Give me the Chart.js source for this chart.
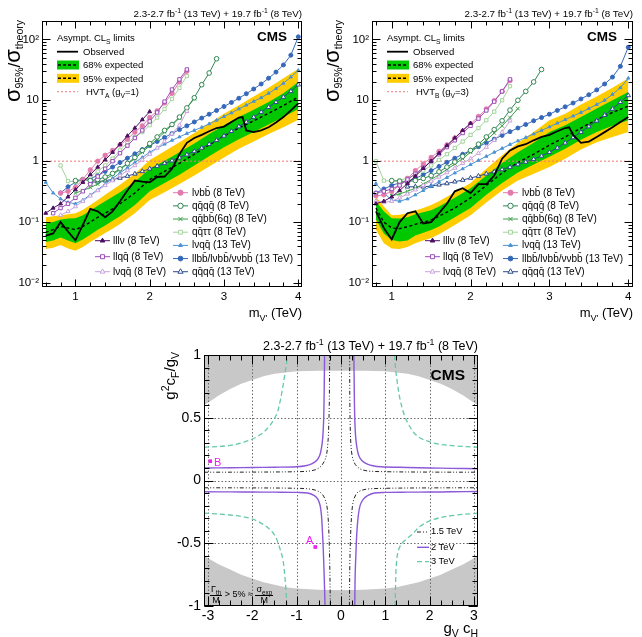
<!DOCTYPE html>
<html><head><meta charset="utf-8"><title>CMS HVT limits</title>
<script src="https://cdn.jsdelivr.net/npm/chart.js@4.4.1/dist/chart.umd.min.js"></script>
<style>
html,body{margin:0;padding:0;background:#fff;}
#wrap{position:relative;width:642px;height:637px;overflow:hidden;font-family:"Liberation Sans",Arial,Helvetica,sans-serif;color:#000;}
.pane{position:absolute;}
.pane canvas{display:block;}
.t{position:absolute;white-space:nowrap;line-height:1;}
.t sub,.t sup,.rot sub,.rot sup{font-size:70%;line-height:0;}
.rot{position:absolute;white-space:nowrap;transform-origin:0 0;transform:rotate(-90deg);text-align:right;}
.frac{display:inline-flex;flex-direction:column;align-items:center;vertical-align:middle;}
.frac .num{border-bottom:0.8px solid #000;padding:0 1px 1px 1px;}
</style></head>
<body><div id="wrap">
<div class="pane" style="left:0;top:0"><canvas id="cA" width="320" height="310"></canvas></div>
<div class="pane" style="left:320px;top:0"><canvas id="cB" width="322" height="310"></canvas></div>
<div class="pane" style="left:150px;top:330px"><canvas id="cC" width="340" height="307"></canvas></div>
</div>
<script>
// ---------------- mass grids (TeV) ----------------
const m06_20=[0.6,0.7,0.8,0.9,1.0,1.1,1.2,1.3,1.4,1.5,1.6,1.7,1.8,1.9,2.0];
const m07_25=[0.7,0.8,0.9,1.0,1.1,1.2,1.3,1.4,1.5,1.6,1.7,1.8,1.9,2.0,2.1,2.2,2.3,2.4,2.5];
const m08_20=[0.8,0.9,1.0,1.1,1.2,1.3,1.4,1.5,1.6,1.7,1.8,1.9,2.0];
const m08_25=[0.8,0.9,1.0,1.1,1.2,1.3,1.4,1.5,1.6,1.7,1.8,1.9,2.0,2.1,2.2,2.3,2.4,2.5];
const m10_26=[1.0,1.1,1.2,1.3,1.4,1.5,1.6,1.7,1.8,1.9,2.0,2.1,2.2,2.3,2.4,2.5,2.6];
const m10_29=[1.0,1.1,1.2,1.3,1.4,1.5,1.6,1.7,1.8,1.9,2.0,2.1,2.2,2.3,2.4,2.5,2.6,2.7,2.8,2.9];
const m06_40=[0.6,0.7,0.8,0.9,1.0,1.1,1.2,1.3,1.4,1.5,1.6,1.7,1.8,1.9,2.0,2.1,2.2,2.3,2.4,2.5,2.6,2.7,2.8,2.9,3.0,3.1,3.2,3.3,3.4,3.5,3.6,3.7,3.8,3.9,4.0];
const m08_40=[0.8,0.9,1.0,1.1,1.2,1.3,1.4,1.5,1.6,1.7,1.8,1.9,2.0,2.1,2.2,2.3,2.4,2.5,2.6,2.7,2.8,2.9,3.0,3.1,3.2,3.3,3.4,3.5,3.6,3.7,3.8,3.9,4.0];
const m12_40=[1.2,1.3,1.4,1.5,1.6,1.7,1.8,1.9,2.0,2.1,2.2,2.3,2.4,2.5,2.6,2.7,2.8,2.9,3.0,3.1,3.2,3.3,3.4,3.5,3.6,3.7,3.8,3.9,4.0];

// ---------------- HVT model A (gV=1) ----------------
const mBandA=[0.6,0.7,0.8,0.9,1.0,1.1,1.2,1.3,1.4,1.5,1.6,1.8,2.0,2.2,2.4,2.6,2.8,3.0,3.2,3.4,3.6,3.8,4.0];
const expA  =[0.068,0.075,0.085,0.08,0.075,0.085,0.1,0.12,0.14,0.165,0.2,0.3,0.5,0.68,0.92,1.3,1.85,2.6,3.5,4.6,6.1,8.2,11.3];
const g68upA=[0.095,0.1,0.11,0.115,0.116,0.13,0.155,0.185,0.22,0.26,0.31,0.46,0.75,1.02,1.4,1.95,2.8,3.9,5.3,7.0,9.4,13,20];
const g68dnA=[0.047,0.05,0.056,0.05,0.045,0.052,0.062,0.075,0.088,0.105,0.125,0.19,0.32,0.44,0.6,0.85,1.2,1.7,2.3,3.0,4.0,5.3,7.2];
const y95upA=[0.12,0.125,0.13,0.135,0.14,0.16,0.19,0.23,0.28,0.34,0.41,0.62,1.05,1.45,2.05,2.9,4.2,6.0,8.3,11.5,16,23,33];
const y95dnA=[0.036,0.038,0.042,0.037,0.034,0.039,0.047,0.056,0.066,0.078,0.093,0.14,0.23,0.31,0.42,0.58,0.82,1.15,1.6,2.1,2.8,3.6,4.8];
const mObsA=[0.6,0.7,0.8,0.9,1.0,1.1,1.2,1.3,1.4,1.5,1.6,1.7,1.8,1.9,2.0,2.1,2.2,2.3,2.4,2.5,2.6,2.7,2.8,2.9,3.0,3.1,3.2,3.25,3.3,3.4,3.5,3.6,3.7,3.8,3.9,4.0];
const obsA =[0.06,0.065,0.1,0.07,0.05,0.09,0.165,0.15,0.12,0.15,0.22,0.33,0.48,0.46,0.45,0.55,0.56,0.75,1.3,2.0,2.4,2.7,3.1,3.5,3.7,4.4,5.2,5.3,3.2,3.0,3.2,3.6,4.3,5.3,6.8,8.9];
const hvtMA=[0.55,4.05], hvtA=[1,1];
const lllv8A =[0.14,0.17,0.2,0.26,0.34,0.45,0.6,0.8,1.05,1.4,1.9,2.6,3.5,4.8,6.5];
const llqq8A =[0.14,0.17,0.2,0.25,0.32,0.42,0.56,0.75,1.0,1.35,1.8,2.4,3.2,4.5,6.3,9.5,15,22,32];
const lvqq8A =[0.13,0.15,0.18,0.22,0.27,0.33,0.4,0.48,0.58,0.7,0.85,1.05,1.3,1.65,2.1,2.8,3.9,6.6];
const lvbb8A =[0.3,0.32,0.37,0.5,0.72,1.0,1.25,1.5,1.85,2.3,3.0,3.8,5.2,6.7,9.0,13,20,30];
const qqqq8A =[0.48,0.5,0.48,0.5,0.55,0.63,0.75,0.92,1.15,1.5,1.95,2.5,3.2,4.0,5.3,7.5,11,18,28,48];
const qqbb8A =[0.3,0.33,0.37,0.42,0.5,0.6,0.73,0.9,1.1,1.4,1.8,2.3,3.0,3.9,5.1,7.5,10.6];
const qqtt8A =[0.85,0.47,0.46,0.5,0.56,0.68,0.85,1.1,1.5,2.0,2.5,3.0,3.9,5.2,7.2,10.5,16,25];
const lvqq13A=[0.45,0.3,0.24,0.21,0.2,0.23,0.28,0.34,0.42,0.52,0.64,0.78,0.95,1.15,1.4,1.65,1.9,2.2,2.5,2.85,3.2,3.6,4.1,4.7,5.4,6.2,7.2,8.3,9.6,11,13,15.5,19,24,31];
const llbb13A=[0.3,0.38,0.45,0.5,0.52,0.58,0.68,0.8,0.95,1.12,1.32,1.55,1.8,2.1,2.45,2.85,3.3,3.8,4.4,5.1,5.9,6.8,7.9,9.2,10.8,12.8,15.3,18.5,23,29,38,55,110];
const qqqq13A=[0.45,0.46,0.48,0.5,0.53,0.57,0.62,0.68,0.75,0.83,0.92,1.02,1.14,1.28,1.45,1.65,1.9,2.2,2.6,3.1,3.7,4.4,5.3,6.4,7.7,9.3,11.3,14,18];

// ---------------- HVT model B (gV=3) ----------------
const mBandB=[0.8,0.9,1.0,1.1,1.2,1.3,1.4,1.5,1.6,1.8,2.0,2.2,2.4,2.6,2.8,3.0,3.2,3.4,3.6,3.8,4.0];
const expB  =[0.17,0.1,0.08,0.078,0.084,0.092,0.1,0.108,0.125,0.17,0.25,0.4,0.64,0.95,1.3,1.83,2.5,3.5,4.8,6.3,8.0];
const g68upB=[0.22,0.15,0.116,0.115,0.12,0.135,0.145,0.157,0.18,0.25,0.36,0.58,0.93,1.4,2.0,3.0,3.9,5.3,7.3,10,13.7];
const g68dnB=[0.11,0.065,0.051,0.048,0.05,0.06,0.067,0.074,0.085,0.12,0.17,0.28,0.44,0.65,0.88,1.18,1.6,2.25,3.0,3.8,4.7];
const y95upB=[0.26,0.18,0.13,0.132,0.14,0.155,0.17,0.19,0.22,0.31,0.44,0.75,1.25,2.0,3.0,4.7,6.0,8.5,11.5,16,23];
const y95dnB=[0.075,0.045,0.037,0.036,0.039,0.045,0.05,0.055,0.063,0.09,0.13,0.21,0.33,0.48,0.62,0.8,1.1,1.55,2.05,2.5,3.0];
const mObsB=[0.8,0.9,1.0,1.1,1.2,1.3,1.4,1.5,1.6,1.7,1.8,1.9,2.0,2.1,2.2,2.3,2.4,2.5,2.6,2.7,2.8,2.9,3.0,3.1,3.2,3.25,3.3,3.4,3.5,3.6,3.7,3.8,3.9,4.0];
const obsB =[0.15,0.08,0.052,0.1,0.14,0.15,0.095,0.1,0.14,0.2,0.32,0.36,0.3,0.42,0.42,0.58,1.1,1.5,1.75,1.9,2.2,2.5,2.7,3.1,3.5,3.6,2.7,2.0,2.1,2.5,3.0,3.6,4.4,5.3];
const hvtMB=[0.75,4.06], hvtB=[1,1];
const lllv8B =[0.2,0.22,0.26,0.33,0.43,0.57,0.76,1.0,1.35,1.8,2.4,3.2,4.2];
const llqq8B =[0.3,0.32,0.35,0.4,0.5,0.62,0.78,1.0,1.3,1.7,2.2,2.9,3.8,5.0,6.8,9.5,14,22];
const lvqq8B =[0.22,0.21,0.22,0.25,0.29,0.34,0.4,0.47,0.55,0.65,0.77,0.92,1.1,1.35,1.7,2.2,3.0,4.6];
const lvbb8B =[0.27,0.28,0.32,0.4,0.52,0.7,0.9,1.15,1.45,1.85,2.4,3.1,4.1,5.4,7.2,9.8,14,21];
const qqqq8B =[0.48,0.47,0.46,0.48,0.52,0.58,0.67,0.8,0.97,1.2,1.5,1.9,2.5,3.3,4.6,6.9,10,14,20,32];
const qqbb8B =[0.27,0.29,0.32,0.36,0.42,0.5,0.6,0.73,0.9,1.1,1.4,1.75,2.2,2.9,3.8,5.2,7.3];
const qqtt8B =[1.0,0.48,0.47,0.48,0.53,0.6,0.7,0.85,1.05,1.3,1.65,2.1,2.7,3.5,4.7,6.5,10,17];
const lvqq13B=[0.43,0.3,0.23,0.22,0.24,0.28,0.33,0.39,0.46,0.54,0.64,0.75,0.88,1.03,1.2,1.4,1.62,1.88,2.15,2.45,2.8,3.2,3.65,4.2,4.8,5.5,6.3,7.3,8.5,10,12.5,16,23];
const llbb13B=[0.3,0.35,0.4,0.44,0.47,0.52,0.6,0.7,0.82,0.96,1.12,1.3,1.5,1.73,2.0,2.3,2.65,3.05,3.5,4.0,4.6,5.2,5.9,6.8,7.8,9.0,10.5,12.3,14.8,18.5,24,36,74];
const qqqq13B=[0.38,0.38,0.38,0.39,0.41,0.43,0.46,0.49,0.53,0.57,0.62,0.67,0.73,0.8,0.88,0.97,1.08,1.22,1.4,1.65,2.0,2.45,3.0,3.7,4.6,5.7,7.2,9.3,12];

// ---------------- coupling plane (gV cH , g^2 cF / gV) ----------------
const grayX  =[-3.09,-3,-2.75,-2.5,-2.25,-2,-1.75,-1.5,-1.25,-1,-0.5,0,0.5,1,1.25,1.5,1.75,2,2.25,2.5,2.75,3,3.09];
const grayTop=[0.6,0.62,0.68,0.73,0.77,0.8,0.83,0.85,0.86,0.87,0.875,0.875,0.875,0.87,0.86,0.85,0.83,0.8,0.77,0.73,0.68,0.62,0.6];
const grayBot=[-0.6,-0.62,-0.67,-0.71,-0.75,-0.78,-0.81,-0.83,-0.85,-0.86,-0.87,-0.875,-0.87,-0.86,-0.85,-0.83,-0.81,-0.78,-0.75,-0.71,-0.67,-0.62,-0.6];
// 1.5 TeV contour branches
const c15ULx=[-3.09,-2,-1,-0.7,-0.55,-0.45,-0.38,-0.33,-0.3,-0.28,-0.265,-0.255];
const c15ULy=[0.066,0.067,0.07,0.076,0.09,0.115,0.15,0.2,0.28,0.4,0.6,1.0];
const c15URx=[0.195,0.2,0.21,0.225,0.25,0.29,0.35,0.45,0.6,1,2,3.09];
const c15URy=[1.0,0.6,0.4,0.28,0.2,0.15,0.115,0.09,0.076,0.07,0.067,0.066];
const c15LLx=[-3.09,-2,-1,-0.7,-0.55,-0.45,-0.37,-0.32,-0.29,-0.27,-0.255,-0.24];
const c15LLy=[-0.058,-0.059,-0.062,-0.068,-0.08,-0.1,-0.14,-0.2,-0.3,-0.45,-0.65,-1.0];
const c15LRx=[0.19,0.2,0.215,0.235,0.26,0.3,0.36,0.45,0.6,1,2,3.09];
const c15LRy=[-1.0,-0.65,-0.45,-0.3,-0.2,-0.14,-0.1,-0.08,-0.068,-0.062,-0.059,-0.058];
// 2 TeV contour branches
const c20ULx=[-3.09,-2.5,-2,-1.5,-1.0,-0.8,-0.65,-0.55,-0.48,-0.44,-0.41,-0.39,-0.38,-0.37];
const c20ULy=[0.1,0.102,0.104,0.106,0.11,0.118,0.135,0.16,0.2,0.26,0.35,0.5,0.7,1.0];
const c20URx=[0.29,0.3,0.31,0.33,0.36,0.4,0.47,0.57,0.72,0.9,1.5,2,2.5,3.09];
const c20URy=[1.0,0.7,0.5,0.35,0.26,0.2,0.16,0.135,0.118,0.11,0.104,0.1,0.097,0.094];
const c20LLx=[-3.09,-2.5,-2,-1.5,-1.0,-0.75,-0.6,-0.52,-0.47,-0.44,-0.42,-0.4,-0.38,-0.36];
const c20LLy=[-0.09,-0.091,-0.092,-0.093,-0.095,-0.1,-0.12,-0.15,-0.2,-0.28,-0.4,-0.55,-0.75,-1.0];
const c20LRx=[0.31,0.32,0.34,0.36,0.39,0.43,0.5,0.6,0.75,1.0,1.5,2,2.5,3.09];
const c20LRy=[-1.0,-0.75,-0.55,-0.4,-0.28,-0.2,-0.15,-0.12,-0.1,-0.095,-0.093,-0.092,-0.09,-0.088];
// 3 TeV contour branches
const c30ULx=[-3.09,-2.5,-2.07,-1.8,-1.6,-1.45,-1.38,-1.32,-1.27,-1.23,-1.21];
const c30ULy=[0.265,0.28,0.32,0.37,0.44,0.53,0.62,0.73,0.84,0.93,1.0];
const c30URx=[1.21,1.23,1.27,1.33,1.42,1.55,1.7,1.9,2.2,2.6,3.09];
const c30URy=[1.0,0.9,0.78,0.65,0.53,0.43,0.36,0.32,0.29,0.275,0.265];
const c30LLx=[-3.09,-2.5,-2.06,-1.75,-1.55,-1.46,-1.38,-1.31,-1.27,-1.24,-1.22];
const c30LLy=[-0.26,-0.275,-0.3,-0.35,-0.41,-0.46,-0.54,-0.63,-0.75,-0.88,-1.0];
const c30LRx=[1.22,1.23,1.25,1.3,1.4,1.5,1.63,1.8,2.09,2.5,3.09];
const c30LRy=[-1.0,-0.85,-0.66,-0.55,-0.49,-0.46,-0.42,-0.36,-0.31,-0.28,-0.26];
// benchmark points
const bmX=[-0.58,-2.95], bmY=[-0.53,0.154], bmLabel=['A','B'];

// ---------------- helpers ----------------
const FONT='"Liberation Sans", Arial, Helvetica, sans-serif';
const GRN='#00c800', YEL='#ffcc00';
function P(ms,vs){return ms.map((m,i)=>({x:m,y:vs[i]}));}
function joinBranches(list){const out=[];list.forEach((b,i)=>{if(i)out.push({x:b[0][0],y:null});b[0].forEach((x,j)=>out.push({x:x,y:b[1][j]}));});return out;}
function band(label,ms,vs,color,fill,order){return {label,data:P(ms,vs),borderWidth:0,borderColor:'rgba(0,0,0,0)',backgroundColor:color,pointRadius:0,fill:fill,order:order,tension:0};}
function chan(label,ms,vs,st){return {label,data:P(ms,vs),borderColor:st.c,backgroundColor:st.c,borderWidth:1,pointStyle:st.s,pointRadius:st.r,pointBorderWidth:1,pointBorderColor:st.c,pointBackgroundColor:st.f?st.c:'#ffffff',fill:false,tension:0,order:3};}
const STY={
  lvbb8:{c:'#e27aac',s:'circle',f:true,r:2.2},
  qqqq8:{c:'#2f8552',s:'circle',f:false,r:2.3},
  qqbb8:{c:'#3da048',s:'crossRot',f:true,r:2.6},
  qqtt8:{c:'#a3d39c',s:'rect',f:false,r:2.3},
  lvqq13:{c:'#4b93d4',s:'triangle',f:true,r:1.8},
  llbb13:{c:'#3568bb',s:'circle',f:true,r:2.0},
  qqqq13:{c:'#2c4a8a',s:'triangle',f:false,r:2.6},
  lllv8:{c:'#4c1062',s:'triangle',f:true,r:2.2},
  llqq8:{c:'#9b4fb8',s:'rect',f:false,r:2.4},
  lvqq8:{c:'#c9a3dc',s:'triangle',f:false,r:2.4}
};
function range(a,b,s){const r=[];for(let v=a;v<=b+1e-9;v+=s)r.push(+v.toFixed(4));return r;}
const logMinor=[];for(let d=-3;d<=2;d++)for(let k=2;k<=9;k++)logMinor.push(k*Math.pow(10,d));
const SUP={'-':'\u207B','1':'\u00B9','2':'\u00B2','3':'\u00B3'};
function logLabel(v){const l=Math.log10(v),r=Math.round(l);if(Math.abs(l-r)>1e-6)return '';if(r===0)return '1';if(r===1)return '10';return '10'+String(r).split('').map(c=>SUP[c]).join('');}

// ---------------- plugins ----------------
const frameTicks={id:'frameTicks',
  beforeDatasetsDraw(chart,args,o){
    if(!o.grid)return;
    const ctx=chart.ctx,a=chart.chartArea,x=chart.scales.x,y=chart.scales.y;
    ctx.save();ctx.strokeStyle=o.grid.color;ctx.lineWidth=1;ctx.setLineDash(o.grid.dash);
    o.grid.x.forEach(v=>{const p=Math.round(x.getPixelForValue(v))+0.5;ctx.beginPath();ctx.moveTo(p,a.top);ctx.lineTo(p,a.bottom);ctx.stroke();});
    o.grid.y.forEach(v=>{const p=Math.round(y.getPixelForValue(v))+0.5;ctx.beginPath();ctx.moveTo(a.left,p);ctx.lineTo(a.right,p);ctx.stroke();});
    ctx.restore();
  },
  afterDatasetsDraw(chart,args,o){
    const ctx=chart.ctx,a=chart.chartArea,x=chart.scales.x,y=chart.scales.y;
    const L=Math.round(a.left)+0.5,R=Math.round(a.right)-0.5,T=Math.round(a.top)+0.5,B=Math.round(a.bottom)-0.5;
    ctx.save();ctx.strokeStyle='#000';ctx.lineWidth=1;ctx.setLineDash([]);
    const tx=(vals,len)=>vals.forEach(v=>{if(v<x.min-1e-9||v>x.max+1e-9)return;const p=Math.round(x.getPixelForValue(v))+0.5;ctx.beginPath();ctx.moveTo(p,B);ctx.lineTo(p,B-len);ctx.moveTo(p,T);ctx.lineTo(p,T+len);ctx.stroke();});
    const ty=(vals,len)=>vals.forEach(v=>{if(v<y.min-1e-12||v>y.max+1e-9)return;const p=Math.round(y.getPixelForValue(v))+0.5;ctx.beginPath();ctx.moveTo(L,p);ctx.lineTo(L+len,p);ctx.moveTo(R,p);ctx.lineTo(R-len,p);ctx.stroke();});
    tx(o.xMinor,o.xMin);tx(o.xMajor,o.xMaj);ty(o.yMinor,o.yMin);ty(o.yMajor,o.yMaj);
    ctx.lineWidth=o.frameW||1;ctx.strokeRect(L,T,R-L,B-T);
    ctx.restore();
  }};
const legendSamples={id:'legendSamples',
  afterDatasetsDraw(chart,args,o){
    const ctx=chart.ctx,off=o.offset||[0,0];
    (o.rows||[]).forEach(r=>{
      const x0=r.x-off[0],y0=r.y-off[1],w=r.w;
      ctx.save();
      if(r.kind==='band'){
        ctx.fillStyle=r.color;ctx.fillRect(x0,y0-r.h/2,w,r.h);
        ctx.strokeStyle='#000';ctx.lineWidth=1.4;ctx.setLineDash([3,2]);
        ctx.beginPath();ctx.moveTo(x0+1,y0);ctx.lineTo(x0+w-1,y0);ctx.stroke();
      }else{
        const ds=chart.data.datasets.find(d=>d.label===r.ds);if(!ds){ctx.restore();return;}
        ctx.strokeStyle=ds.borderColor;ctx.lineWidth=ds.borderWidth;ctx.setLineDash(ds.borderDash||[]);
        ctx.beginPath();ctx.moveTo(x0,y0);ctx.lineTo(x0+w,y0);ctx.stroke();
        if(ds.pointRadius>0&&Chart.helpers&&Chart.helpers.drawPoint){
          ctx.setLineDash([]);ctx.fillStyle=ds.pointBackgroundColor;ctx.strokeStyle=ds.pointBorderColor;ctx.lineWidth=ds.pointBorderWidth;
          Chart.helpers.drawPoint(ctx,{pointStyle:ds.pointStyle,rotation:0,radius:ds.pointRadius+0.4,borderWidth:ds.pointBorderWidth},x0+w/2,y0);
        }
      }
      ctx.restore();
    });
  }};

// ---------------- legend layouts ----------------
function topLegendRows(dx,hvtHtml){return [
  {x:57+dx,y:51.7,w:21,ds:'Observed',txt:'Observed',tx:83+dx},
  {x:57+dx,y:65,w:22,h:9,kind:'band',color:GRN,txt:'68% expected',tx:83+dx},
  {x:57+dx,y:78.3,w:22,h:9,kind:'band',color:YEL,txt:'95% expected',tx:83+dx},
  {x:57+dx,y:91.7,w:21,ds:'HVT',txt:hvtHtml,tx:86+dx}];}
const CHL={lllv8:'lll&nu; (8 TeV)',llqq8:'llqq&#772; (8 TeV)',lvqq8:'l&nu;qq&#772; (8 TeV)',
  lvbb8:'l&nu;bb&#772; (8 TeV)',qqqq8:'qq&#772;qq&#772; (8 TeV)',qqbb8:'qq&#772;bb&#772;(6q) (8 TeV)',qqtt8:'qq&#772;&tau;&tau; (8 TeV)',
  lvqq13:'l&nu;qq&#772; (13 TeV)',llbb13:'llbb&#772;/l&nu;bb&#772;/&nu;&nu;bb&#772; (13 TeV)',qqqq13:'qq&#772;qq&#772; (13 TeV)'};
function chanLegendRows(xl,xr){
  const left=['lllv8','llqq8','lvqq8'],ly=[240.7,256.7,271.7];
  const right=['lvbb8','qqqq8','qqbb8','qqtt8','lvqq13','llbb13','qqqq13'];
  const rows=left.map((k,i)=>({x:xl,y:ly[i],w:15,ds:k,txt:CHL[k],tx:xl+18}));
  right.forEach((k,i)=>rows.push({x:xr,y:192.7+13.17*i,w:15,ds:k,txt:CHL[k],tx:xr+19}));
  return rows;}

// ---------------- top charts ----------------
function makeTop(id,D,xmin,xmax,yw,padR,rows,off){
  const ds=[
    band('y95up',D.mb,D.y95up,YEL,1,20),band('y95dn',D.mb,D.y95dn,YEL,false,20),
    band('g68up',D.mb,D.g68up,GRN,3,19),band('g68dn',D.mb,D.g68dn,GRN,false,19),
    {label:'Expected',data:P(D.mb,D.exp),borderColor:'#000',borderWidth:1.4,borderDash:[3,2.5],pointRadius:0,fill:false,tension:0,order:5},
    {label:'HVT',data:P(D.hm,D.hv),borderColor:'#f07a7a',borderWidth:1,borderDash:[2,2],pointRadius:0,fill:false,tension:0,order:4},
    chan('lllv8',D.lllvM,D.lllv8,STY.lllv8),chan('llqq8',D.llqqM,D.llqq8,STY.llqq8),chan('lvqq8',m08_25,D.lvqq8,STY.lvqq8),
    chan('lvbb8',m08_25,D.lvbb8,STY.lvbb8),chan('qqqq8',m10_29,D.qqqq8,STY.qqqq8),chan('qqbb8',m10_26,D.qqbb8,STY.qqbb8),
    chan('qqtt8',m08_25,D.qqtt8,STY.qqtt8),chan('lvqq13',D.lvqq13M,D.lvqq13,STY.lvqq13),chan('llbb13',m08_40,D.llbb13,STY.llbb13),
    chan('qqqq13',m12_40,D.qqqq13,STY.qqqq13),
    {label:'Observed',data:P(D.mo,D.obs),borderColor:'#000',borderWidth:1.8,pointRadius:0,fill:false,tension:0,order:1}
  ];
  return new Chart(document.getElementById(id),{type:'line',data:{datasets:ds},
    options:{responsive:false,animation:false,events:[],
      layout:{padding:{top:21,right:padR,left:0,bottom:0}},
      plugins:{legend:{display:false},tooltip:{enabled:false},
        frameTicks:{xMajor:[1,2,3,4],xMinor:range(0.6,4.0,0.2),xMaj:7,xMin:4,yMajor:[0.01,0.1,1,10,100],yMinor:logMinor,yMaj:8,yMin:4},
        legendSamples:{rows:rows,offset:off}},
      scales:{
        x:{type:'linear',min:xmin,max:xmax,grid:{display:false,drawTicks:false},border:{display:false},
          ticks:{stepSize:1,includeBounds:false,autoSkip:false,maxRotation:0,padding:3,color:'#000',font:{family:FONT,size:11.5},callback:v=>Number.isInteger(v)?String(v):''},
          afterFit:s=>{s.height=23;}},
        y:{type:'logarithmic',min:0.0086,max:200,grid:{display:false,drawTicks:false},border:{display:false},
          ticks:{autoSkip:false,padding:3,color:'#000',font:{family:FONT,size:11.5},callback:logLabel},
          afterFit:s=>{s.width=yw;}}}},
    plugins:[frameTicks,legendSamples]});
}
const rowsA=topLegendRows(0,'HVT<sub>A</sub> (g<sub>V</sub>=1)').concat(chanLegendRows(95,173));
const rowsB=topLegendRows(330,'HVT<sub>B</sub> (g<sub>V</sub>=3)').concat(chanLegendRows(425,503));
makeTop('cA',{mb:mBandA,exp:expA,g68up:g68upA,g68dn:g68dnA,y95up:y95upA,y95dn:y95dnA,mo:mObsA,obs:obsA,hm:hvtMA,hv:hvtA,
  lllvM:m06_20,lllv8:lllv8A,llqqM:m07_25,llqq8:llqq8A,lvqq8:lvqq8A,lvbb8:lvbb8A,qqqq8:qqqq8A,qqbb8:qqbb8A,qqtt8:qqtt8A,
  lvqq13M:m06_40,lvqq13:lvqq13A,llbb13:llbb13A,qqqq13:qqqq13A},0.55,4.05,42,18,rowsA,[0,0]);
makeTop('cB',{mb:mBandB,exp:expB,g68up:g68upB,g68dn:g68dnB,y95up:y95upB,y95dn:y95dnB,mo:mObsB,obs:obsB,hm:hvtMB,hv:hvtB,
  lllvM:m08_20,lllv8:lllv8B,llqqM:m08_25,llqq8:llqq8B,lvqq8:lvqq8B,lvbb8:lvbb8B,qqqq8:qqqq8B,qqbb8:qqbb8B,qqtt8:qqtt8B,
  lvqq13M:m08_40,lvqq13:lvqq13B,llbb13:llbb13B,qqqq13:qqqq13B},0.75,4.06,52,9,rowsB,[320,0]);

// ---------------- bottom chart ----------------
const rowsC=[{x:417,y:532,w:12,ds:'1.5 TeV',txt:'1.5 TeV',tx:431},{x:417,y:547.3,w:12,ds:'2 TeV',txt:'2 TeV',tx:431},{x:417,y:561.7,w:12,ds:'3 TeV',txt:'3 TeV',tx:431}];
new Chart(document.getElementById('cC'),{type:'line',data:{datasets:[
    {label:'grayTop',data:P(grayX,grayTop),borderWidth:0,borderColor:'rgba(0,0,0,0)',pointRadius:0,backgroundColor:'#c8c8c8',fill:'end',order:30,tension:0},
    {label:'grayBot',data:P(grayX,grayBot),borderWidth:0,borderColor:'rgba(0,0,0,0)',pointRadius:0,backgroundColor:'#c8c8c8',fill:'start',order:30,tension:0},
    {label:'3 TeV',data:joinBranches([[c30ULx,c30ULy],[c30URx,c30URy],[c30LLx,c30LLy],[c30LRx,c30LRy]]),borderColor:'#66c9a6',borderWidth:1.3,borderDash:[5,3],pointRadius:0,fill:false,tension:0.35,spanGaps:false,order:4},
    {label:'2 TeV',data:joinBranches([[c20ULx,c20ULy],[c20URx,c20URy],[c20LLx,c20LLy],[c20LRx,c20LRy]]),borderColor:'#8b58d8',borderWidth:1.4,pointRadius:0,fill:false,tension:0.35,spanGaps:false,order:3},
    {label:'1.5 TeV',data:joinBranches([[c15ULx,c15ULy],[c15URx,c15URy],[c15LLx,c15LLy],[c15LRx,c15LRy]]),borderColor:'#222',borderWidth:1,borderDash:[4,2,1,2,1,2],pointRadius:0,fill:false,tension:0.35,spanGaps:false,order:2},
    {label:'bench',data:P(bmX,bmY),showLine:false,pointStyle:'rect',pointRadius:2.6,pointBackgroundColor:'#ee22ee',pointBorderColor:'#ee22ee',pointBorderWidth:0,order:1}
  ]},
  options:{responsive:false,animation:false,events:[],
    layout:{padding:{top:25,right:12,left:0,bottom:0}},
    plugins:{legend:{display:false},tooltip:{enabled:false},filler:{drawTime:'beforeDraw'},
      frameTicks:{xMajor:[-3,-2,-1,0,1,2,3],xMinor:range(-3,3,0.25),xMaj:9,xMin:5,yMajor:[-1,-0.5,0,0.5,1],yMinor:range(-1,1,0.1),yMaj:9,yMin:5,
        grid:{x:[-3,-2,-1,0,1,2,3],y:[-0.5,0,0.5],color:'#6a6a6a',dash:[1.5,2]}},
      legendSamples:{rows:rowsC,offset:[150,330]}},
    scales:{
      x:{type:'linear',min:-3.09,max:3.09,grid:{display:false,drawTicks:false},border:{display:false},
        ticks:{stepSize:1,includeBounds:false,autoSkip:false,maxRotation:0,padding:2,color:'#000',font:{family:FONT,size:14},callback:v=>String(Math.round(v))},
        afterFit:s=>{s.height=31;}},
      y:{type:'linear',min:-1,max:1,grid:{display:false,drawTicks:false},border:{display:false},
        ticks:{stepSize:0.5,includeBounds:false,autoSkip:false,padding:3,color:'#000',font:{family:FONT,size:14},callback:v=>String(Math.round(v*10)/10)},
        afterFit:s=>{s.width=54;}}}},
  plugins:[frameTicks,legendSamples]});

// ---------------- text layer ----------------
const wrap=document.getElementById('wrap');
function T(html,x,yc,fs,o){o=o||{};const d=document.createElement('div');d.className='t';d.innerHTML=html;d.style.fontSize=fs+'px';d.style.top=(yc-0.5*fs)+'px';
  if(o.right)d.style.right=(642-x)+'px';else d.style.left=x+'px';if(o.bold)d.style.fontWeight='bold';if(o.color)d.style.color=o.color;wrap.appendChild(d);return d;}
function R(html,L,Tp,fs,w){const d=document.createElement('div');d.className='rot';d.innerHTML=html;d.style.left=L+'px';d.style.top=Tp+'px';d.style.width=w+'px';d.style.fontSize=fs+'px';d.style.lineHeight=fs+'px';wrap.appendChild(d);return d;}
const LUMI='2.3-2.7 fb<sup>-1</sup> (13 TeV) + 19.7 fb<sup>-1</sup> (8 TeV)';
const SIG='<span style="font-size:22px">&sigma;</span><span style="font-size:10.5px;vertical-align:-3px">95%</span><span style="font-size:17px">/</span><span style="font-size:22px">&sigma;</span><span style="font-size:10.5px;vertical-align:-3px">theory</span>';
// panel A
T(LUMI,302,13.7,9.8,{right:true});
T('CMS',287,36.7,13.5,{right:true,bold:true});
T('m<sub>V\'</sub> (TeV)',302,312.6,13,{right:true});
R(SIG,2.4,220,22,200);
// panel B
T(LUMI,633,13.7,9.8,{right:true});
T('CMS',617,36.7,13.5,{right:true,bold:true});
T('m<sub>V\'</sub> (TeV)',633,312.6,13,{right:true});
R(SIG,321.4,220,22,200);
// legends A/B
[[rowsA,57],[rowsB,387]].forEach(p=>{
  T('Asympt. CL<sub>S</sub> limits',p[1],37.3,9.5);
  p[0].forEach((r,i)=>T(r.txt,r.tx,r.y,i<4?9.5:10));
});
// panel C
T(LUMI,478,346,12.5,{right:true});
T('CMS',465,374.5,15.5,{right:true,bold:true});
T('g<sub>V</sub> c<sub>H</sub>',478,627.6,15,{right:true});
R('g<sup>2</sup>c<sub>F</sub>/g<sub>V</sub>',161.8,551.7,15,200);
rowsC.forEach(r=>T(r.txt,r.tx,r.y,9.3));
T(bmLabel[0],306,540,11,{color:'#ee22ee'});
T(bmLabel[1],214,462,11,{color:'#ee22ee'});
T('<span class="frac"><span class="num">&Gamma;<sub>th</sub></span><span>M</span></span> &gt; 5% &asymp; <span class="frac"><span class="num">&sigma;<sub>exp</sub></span><span>M</span></span>',210,589,9);
</script>
</body></html>
